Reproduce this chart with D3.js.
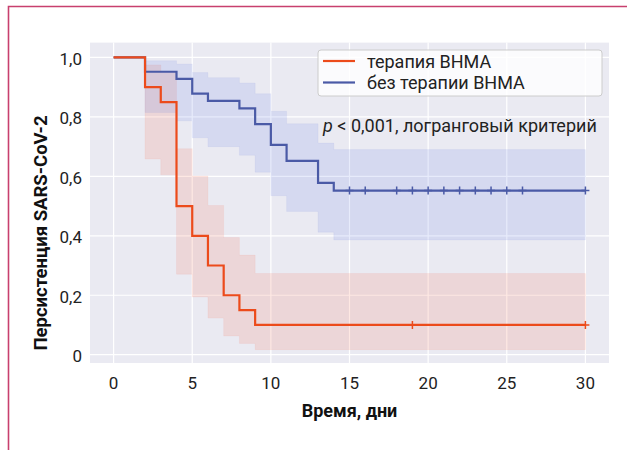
<!DOCTYPE html>
<html>
<head>
<meta charset="utf-8">
<script src="https://cdn.jsdelivr.net/npm/d3@7"></script>
<style>
  body { margin: 0; background: #fff; }
  text { font-family: Roboto, "Liberation Sans", sans-serif; }
</style>
</head>
<body>
<div id="chart"></div>
<script>
// Data
var seriesNames = ["терапия ВНМА", "без терапии ВНМА"];

var redTimes = [0, 2, 3, 4, 5, 6, 7, 8, 9, 30];
var redSurv = [1.0, 0.90, 0.85, 0.50, 0.40, 0.30, 0.20, 0.15, 0.10, 0.10];
var redUpper = [1.0, 0.975, 0.949, 0.693, 0.601, 0.502, 0.394, 0.335, 0.273, 0.273];
var redLower = [1.0, 0.658, 0.605, 0.271, 0.194, 0.123, 0.063, 0.038, 0.017, 0.017];
var redCensored = [19, 30];

var blueTimes = [0, 2, 4, 5, 6, 8, 9, 10, 11, 13, 14, 30];
var blueSurv = [1.0, 0.952, 0.928, 0.878, 0.854, 0.829, 0.776, 0.706, 0.652, 0.578, 0.552, 0.552];
var blueUpper = [1.0, 0.989, 0.978, 0.949, 0.932, 0.914, 0.878, 0.819, 0.777, 0.712, 0.690, 0.690];
var blueLower = [1.0, 0.815, 0.787, 0.730, 0.700, 0.671, 0.614, 0.535, 0.482, 0.412, 0.386, 0.386];
var blueCensored = [15, 16, 18, 19, 20, 21, 22, 23, 24, 25, 26, 30];

var xTicks = [0, 5, 10, 15, 20, 25, 30];
var yTicks = [0, 0.2, 0.4, 0.6, 0.8, 1.0];
var yTickLabels = ["0", "0,2", "0,4", "0,6", "0,8", "1,0"];

var red = "#ec4b1b", blue = "#4a5aa6";

var W = 627, H = 450;
var plot = { left: 90, right: 609, top: 42.6, bottom: 363 };

var svg = d3.select("#chart").append("svg")
    .attr("width", W)
    .attr("height", H);

// outer frame (only left and top edges visible)
svg.append("path")
    .attr("d", "M8.5," + (H + 5) + "V6.5H" + (W + 5))
    .attr("fill", "none")
    .attr("stroke", "#c8406e")
    .attr("stroke-width", 1.6);

var x = d3.scaleLinear().domain([-1.5, 31.5]).range([plot.left, plot.right]);
var y = d3.scaleLinear().domain([-0.028, 1.05]).range([plot.bottom, plot.top]);

// background
svg.append("rect")
    .attr("x", plot.left).attr("y", plot.top)
    .attr("width", plot.right - plot.left)
    .attr("height", plot.bottom - plot.top)
    .attr("fill", "#eaeaf2");

// grid
svg.append("g").selectAll("line").data(xTicks).enter().append("line")
    .attr("x1", function(d) { return x(d); }).attr("x2", function(d) { return x(d); })
    .attr("y1", plot.top).attr("y2", plot.bottom)
    .attr("stroke", "#fff").attr("stroke-width", 1.2);
svg.append("g").selectAll("line").data(yTicks).enter().append("line")
    .attr("y1", function(d) { return y(d); }).attr("y2", function(d) { return y(d); })
    .attr("x1", plot.left).attr("x2", plot.right)
    .attr("stroke", "#fff").attr("stroke-width", 1.2);

// tick labels
svg.append("g").selectAll("text").data(xTicks).enter().append("text")
    .attr("x", function(d) { return x(d); })
    .attr("y", 383)
    .attr("text-anchor", "middle")
    .attr("dominant-baseline", "central")
    .style("font-size", "17px")
    .attr("fill", "#222")
    .text(function(d) { return d; });
svg.append("g").selectAll("text").data(yTicks).enter().append("text")
    .attr("x", 82)
    .attr("y", function(d) { return y(d) + 1.5; })
    .attr("text-anchor", "end")
    .attr("dominant-baseline", "central")
    .style("font-size", "17px")
    .attr("fill", "#222")
    .text(function(d, i) { return yTickLabels[i]; });

// axis titles
svg.append("text")
    .attr("x", (plot.left + plot.right) / 2)
    .attr("y", 410)
    .attr("text-anchor", "middle")
    .attr("dominant-baseline", "central")
    .style("font-size", "18px")
    .style("font-weight", "bold")
    .attr("fill", "#111")
    .text("Время, дни");
svg.append("text")
    .attr("transform", "translate(41,233) rotate(-90)")
    .attr("text-anchor", "middle")
    .attr("dominant-baseline", "central")
    .style("font-size", "18.5px")
    .style("font-weight", "bold")
    .attr("fill", "#111")
    .text("Персистенция SARS-CoV-2");

function rows(times, s, lo, hi) {
    return times.map(function(t, i) { return { t: t, s: s[i], lo: lo[i], hi: hi[i] }; });
}
var groups = [
    { color: red, band: "#f76545", data: rows(redTimes, redSurv, redLower, redUpper), cens: redCensored },
    { color: blue, band: "#5e79e5", data: rows(blueTimes, blueSurv, blueLower, blueUpper), cens: blueCensored }
];

var band = d3.area().curve(d3.curveStepAfter)
    .x(function(d) { return x(d.t); })
    .y0(function(d) { return y(d.lo); })
    .y1(function(d) { return y(d.hi); });
var line = d3.line().curve(d3.curveStepAfter)
    .x(function(d) { return x(d.t); })
    .y(function(d) { return y(d.s); });

groups.forEach(function(g) {
    svg.append("path").attr("d", band(g.data))
        .attr("fill", g.band).attr("fill-opacity", 0.15)
        .attr("stroke", g.band).attr("stroke-opacity", 0.06);
});
groups.slice().reverse().forEach(function(g) {
    svg.append("path").attr("d", line(g.data))
        .attr("fill", "none").attr("stroke", g.color).attr("stroke-width", 2.2);
    var last = g.data[g.data.length - 1].s;
    svg.append("g").selectAll("path").data(g.cens).enter().append("path")
        .attr("d", function(d) {
            var cx = x(d), cy = y(last);
            return "M" + (cx - 4) + "," + cy + "H" + (cx + 4) + "M" + cx + "," + (cy - 4) + "V" + (cy + 4);
        })
        .attr("stroke", g.color).attr("stroke-width", 1.5);
});

// legend
var lg = svg.append("g");
lg.append("rect")
    .attr("x", 318).attr("y", 50).attr("width", 284).attr("height", 46)
    .attr("rx", 3)
    .attr("fill", "#fff").attr("fill-opacity", 0.8)
    .attr("stroke", "#cccccc");
[red, blue].forEach(function(c, i) {
    var ly = 61 + i * 21.5;
    lg.append("line").attr("x1", 323).attr("x2", 355).attr("y1", ly).attr("y2", ly)
        .attr("stroke", c).attr("stroke-width", 2.2);
    lg.append("text").attr("x", 367).attr("y", ly)
        .attr("dominant-baseline", "central")
        .style("font-size", "18px")
        .attr("fill", "#222")
        .text(seriesNames[i]);
});

// p-value note
var pt = svg.append("text")
    .attr("x", 323).attr("y", 125)
    .attr("dominant-baseline", "central")
    .style("font-size", "18px")
    .attr("fill", "#222");
pt.append("tspan").style("font-style", "italic").text("p");
pt.append("tspan").text(" < 0,001, логранговый критерий");
</script>
</body>
</html>
